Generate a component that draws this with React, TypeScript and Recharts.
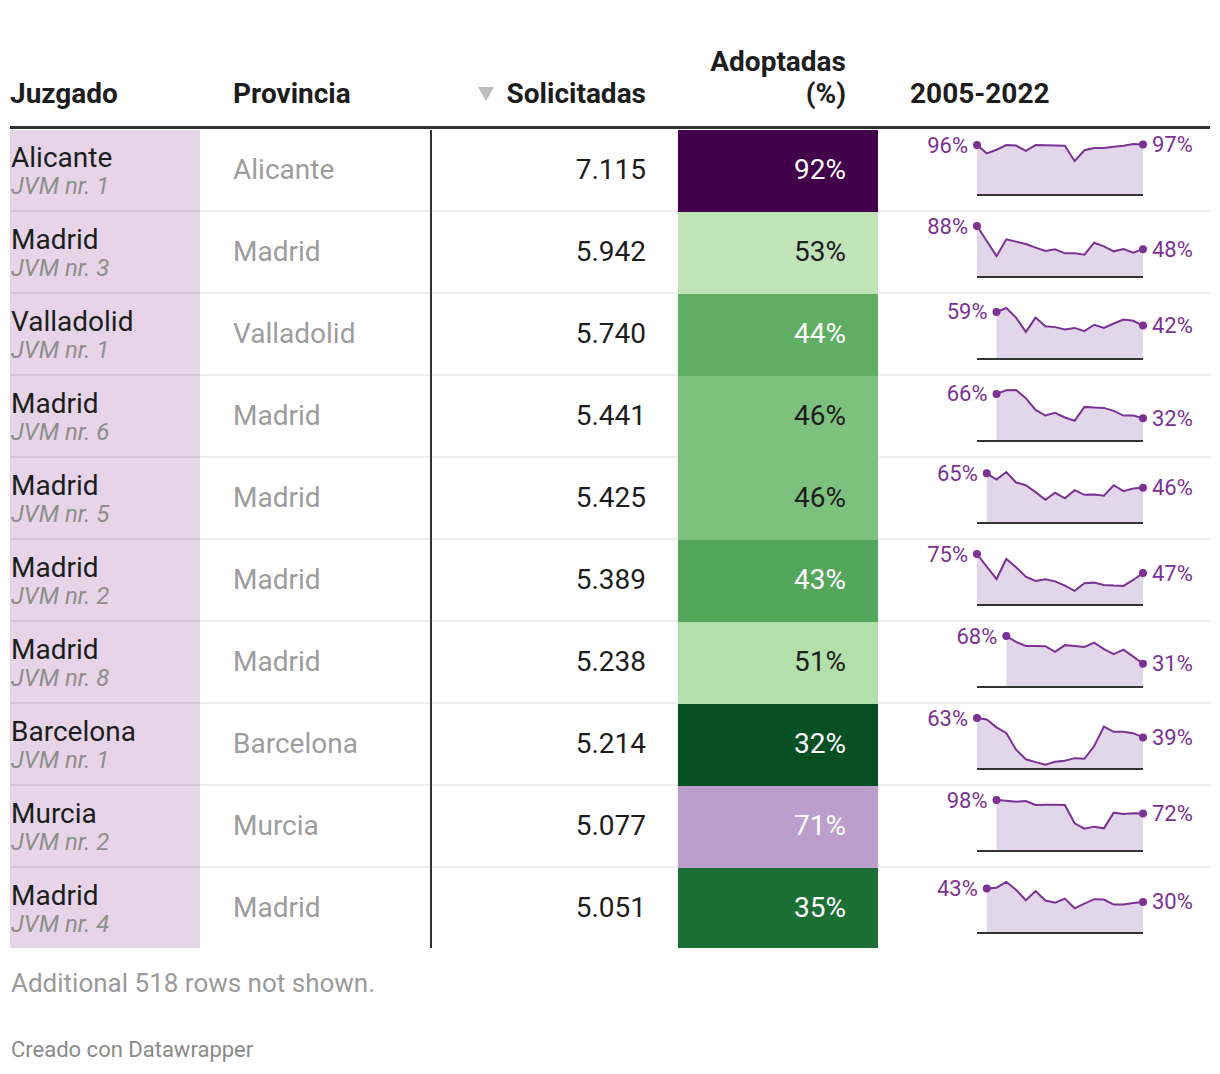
import React from 'react'
import { ComposedChart, Area, XAxis, YAxis, ReferenceLine } from 'recharts'

const courts = ['Alicante', 'Madrid', 'Valladolid', 'Madrid', 'Madrid', 'Madrid', 'Madrid', 'Barcelona', 'Murcia', 'Madrid']
const courtNumbers = ['JVM nr. 1', 'JVM nr. 3', 'JVM nr. 1', 'JVM nr. 6', 'JVM nr. 5', 'JVM nr. 2', 'JVM nr. 8', 'JVM nr. 1', 'JVM nr. 2', 'JVM nr. 4']
const provinces = ['Alicante', 'Madrid', 'Valladolid', 'Madrid', 'Madrid', 'Madrid', 'Madrid', 'Barcelona', 'Murcia', 'Madrid']
const requested = [7115, 5942, 5740, 5441, 5425, 5389, 5238, 5214, 5077, 5051]
const adopted = [92, 53, 44, 46, 46, 43, 51, 32, 71, 35]

// first year of each sparkline (the series run to 2022)
const firstYears = [2005, 2005, 2007, 2007, 2006, 2005, 2008, 2005, 2007, 2006]

const trendAlicante1 = [96, 80, 87, 96, 95, 85, 96, 95.5, 95, 94.5, 65, 86, 90.5, 90.5, 92.5, 94.5, 98, 97]
const trendMadrid3 = [88, 62, 36, 65, 61, 57, 50.6, 44.9, 47.7, 40.8, 40.8, 38.5, 59.2, 52.9, 44.3, 48.3, 42, 48]
const trendValladolid1 = [59, 64, 52, 34, 52, 41, 40, 37, 39, 35, 43, 39, 44.5, 49.5, 48, 42]
const trendMadrid6 = [66, 71, 71.5, 60, 43.6, 35.7, 39.4, 33, 28.3, 47.8, 46.9, 46.4, 42.2, 35.7, 35.7, 32]
const trendMadrid5 = [65, 56.8, 66.7, 52.9, 49.4, 40.4, 30.4, 39.5, 32.2, 43, 36.9, 37.3, 35.6, 49.4, 41.7, 45.1, 46]
const trendMadrid2 = [75, 56.6, 38.2, 67.7, 55.6, 41.6, 35.3, 37.7, 34.8, 28.5, 20.8, 31.9, 32.9, 29.5, 28.5, 28.1, 36.8, 47]
const trendMadrid8 = [68, 60.1, 54.8, 54.6, 54.4, 46.9, 55.8, 54.6, 53.5, 59.2, 50.4, 43.8, 49.9, 40.5, 31]
const trendBarcelona1 = [63, 61.2, 51.5, 44.6, 23.8, 12, 8.5, 5.2, 8.9, 10.2, 13.4, 12.6, 28.4, 52.4, 46, 46, 44.3, 39]
const trendMurcia2 = [98, 96.7, 94.8, 96.1, 88.4, 89, 89, 88.4, 53.2, 42.9, 46.8, 43.6, 73.7, 71.1, 72.4, 72]
const trendMadrid4 = [43, 43.7, 49.2, 41.7, 31.6, 40.4, 31.3, 29.3, 33.2, 23.8, 28.4, 32.6, 32.3, 27.4, 27.4, 29, 30]

const trends = [
  trendAlicante1, trendMadrid3, trendValladolid1, trendMadrid6, trendMadrid5,
  trendMadrid2, trendMadrid8, trendBarcelona1, trendMurcia2, trendMadrid4,
]

const headers = ['Juzgado', 'Provincia', 'Solicitadas', 'Adoptadas', '(%)', '2005-2022']
const footnote = 'Additional 518 rows not shown.'
const credit = 'Creado con Datawrapper'

// colour scale for the Adoptadas column
const colorStops: [number, string][] = [
  [32, '#064f22'], [35, '#1b6f35'], [43, '#53a65b'], [44, '#5fae63'], [46, '#7dc17e'],
  [51, '#b2dfaa'], [53, '#c0e4b8'], [71, '#bb9ecb'], [92, '#42004a'],
]

const PURPLE = '#7b3294'
const FILL = '#e2d6ea'
const FONT = 'Roboto, sans-serif'
const ROW_TOP = 130
const ROW_H = 82

const hex = (c: string) => [1, 3, 5].map((i) => parseInt(c.slice(i, i + 2), 16))
const mix = (a: string, b: string, t: number) => {
  const A = hex(a), B = hex(b)
  return '#' + A.map((v, i) => Math.round(v + (B[i] - v) * t).toString(16).padStart(2, '0')).join('')
}
const colorFor = (v: number) => {
  if (v <= colorStops[0][0]) return colorStops[0][1]
  for (let i = 1; i < colorStops.length; i++) {
    const [x1, c1] = colorStops[i]
    const [x0, c0] = colorStops[i - 1]
    if (v <= x1) return mix(c0, c1, (v - x0) / (x1 - x0))
  }
  return colorStops[colorStops.length - 1][1]
}
const luminance = (c: string) => {
  const [r, g, b] = hex(c).map((v) => {
    const s = v / 255
    return s <= 0.03928 ? s / 12.92 : Math.pow((s + 0.055) / 1.055, 2.4)
  })
  return 0.2126 * r + 0.7152 * g + 0.0722 * b
}
const fmtThousands = (n: number) => String(n).replace(/\B(?=(\d{3})+(?!\d))/g, '.')

// text placed by its baseline
const T = ({ x, y, size, children, color = '#1d1d1d', weight = 400, italic = false, align = 'left' }: any) => (
  <div
    style={{
      position: 'absolute',
      top: y - 0.842 * size,
      left: align === 'left' ? x : undefined,
      right: align === 'right' ? 1220 - x : undefined,
      fontSize: size,
      lineHeight: `${size}px`,
      fontWeight: weight,
      fontStyle: italic ? 'italic' : 'normal',
      color,
      whiteSpace: 'nowrap',
      fontFamily: FONT,
    }}
  >
    {children}
  </div>
)

const Spark = ({ values, start }: { values: number[]; start: number }) => {
  const data = values.map((v, i) => ({ year: start + i, v }))
  const max = Math.max(...values)
  const last = data.length - 1
  const renderDot = (p: any) => {
    const { cx, cy, index } = p
    if (index !== 0 && index !== last) return <g key={`d${index}`} />
    const label = Math.round(data[index].v) + '%'
    return (
      <g key={`d${index}`}>
        <circle cx={cx} cy={cy} r={4} fill={PURPLE} />
        <text
          x={index === 0 ? cx - 9 : cx + 9}
          y={cy}
          textAnchor={index === 0 ? 'end' : 'start'}
          dominantBaseline="central"
          fill={PURPLE}
          fontSize={22}
          fontFamily={FONT}
        >
          {label}
        </text>
      </g>
    )
  }
  return (
    <ComposedChart width={290} height={82} data={data} margin={{ top: 14, right: 67, bottom: 17, left: 57 }}>
      <XAxis type="number" dataKey="year" domain={[2005, 2022]} hide />
      <YAxis type="number" domain={[0, max]} hide />
      <Area
        type="linear"
        dataKey="v"
        stroke={PURPLE}
        strokeWidth={2}
        fill={FILL}
        fillOpacity={1}
        dot={renderDot}
        activeDot={false}
        isAnimationActive={false}
      />
      <ReferenceLine y={0} stroke="#333" strokeWidth={2} />
    </ComposedChart>
  )
}

export default function App() {
  const n = courts.length
  const bottom = ROW_TOP + n * ROW_H - 2
  return (
    <div style={{ position: 'absolute', left: 0, top: 0, width: 1220, height: 1074, background: '#fff', fontFamily: FONT }}>
      {/* header */}
      <T x={10} y={104} size={28} weight={700}>{headers[0]}</T>
      <T x={233} y={104} size={28} weight={700}>{headers[1]}</T>
      <div
        style={{
          position: 'absolute', left: 478, top: 87, width: 0, height: 0,
          borderLeft: '8px solid transparent', borderRight: '8px solid transparent', borderTop: '14px solid #bdbdbd',
        }}
      />
      <T x={646} y={104} size={28} weight={700} align="right">{headers[2]}</T>
      <T x={846} y={72} size={28} weight={700} align="right">{headers[3]}</T>
      <T x={846} y={104} size={28} weight={700} align="right">{headers[4]}</T>
      <T x={910} y={104} size={28} weight={700}>{headers[5]}</T>
      <div style={{ position: 'absolute', left: 10, top: 126, width: 1200, height: 3, background: '#333' }} />

      {/* first column background */}
      <div style={{ position: 'absolute', left: 10, top: ROW_TOP, width: 190, height: bottom - ROW_TOP, background: '#e7d4e8' }} />

      {courts.map((c, i) => {
        const top = ROW_TOP + i * ROW_H
        const bg = colorFor(adopted[i])
        const txt = luminance(bg) > 0.42 ? '#1d1d1d' : '#ffffff'
        return (
          <React.Fragment key={i}>
            {i < n - 1 && (
              <div style={{ position: 'absolute', left: 10, top: top + 80, width: 1200, height: 2, background: 'rgba(0,0,0,0.07)' }} />
            )}
            <div style={{ position: 'absolute', left: 678, top, width: 200, height: i < n - 1 ? ROW_H : ROW_H - 2, background: bg }} />
            <T x={11} y={top + 38} size={28}>{c}</T>
            <T x={11} y={top + 64} size={24} italic color="#8e8e8e">{courtNumbers[i]}</T>
            <T x={233} y={top + 50} size={28} color="#9d9d9d">{provinces[i]}</T>
            <T x={646} y={top + 50} size={28} align="right">{fmtThousands(requested[i])}</T>
            <T x={846} y={top + 50} size={28} color={txt} align="right">{`${adopted[i]}%`}</T>
            <div style={{ position: 'absolute', left: 920, top }}>
              <Spark values={trends[i]} start={firstYears[i]} />
            </div>
          </React.Fragment>
        )
      })}

      <div style={{ position: 'absolute', left: 430, top: ROW_TOP, width: 2, height: bottom - ROW_TOP, background: '#333' }} />

      <T x={11} y={992} size={26} color="#9a9a9a">{footnote}</T>
      <T x={11} y={1058} size={22} color="#8a8a8a">{credit}</T>
    </div>
  )
}
